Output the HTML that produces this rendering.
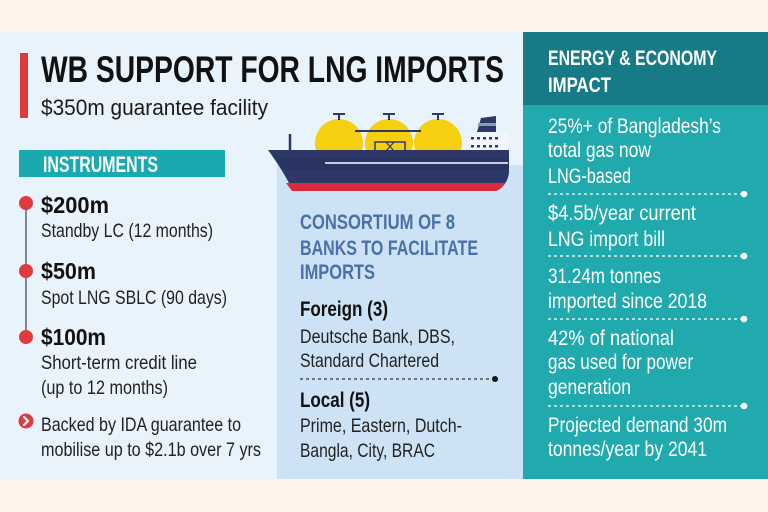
<!DOCTYPE html>
<html><head><meta charset="utf-8"><style>
html,body{margin:0;padding:0;background:#fdf3e9;}
svg{display:block;}
text{font-family:"Liberation Sans Narrow","Liberation Sans",sans-serif;}
.b{font-weight:bold;}
</style></head><body>
<svg width="768" height="512" viewBox="0 0 768 512" xmlns="http://www.w3.org/2000/svg">
<rect x="0" y="0" width="768" height="512" fill="#fdf3e9"/>
<rect x="0" y="32" width="523" height="447" fill="#e9f3fb"/>
<rect x="277" y="165" width="246" height="314" fill="#cde3f5"/>
<rect x="523" y="32" width="245" height="447" fill="#20aaae"/>
<rect x="523" y="32" width="245" height="73" fill="#177a87"/>

<!-- title -->
<rect x="20" y="53" width="8" height="65" fill="#e0393e"/>
<text x="41" y="82" class="b" font-size="37" fill="#111" textLength="463" lengthAdjust="spacingAndGlyphs">WB SUPPORT FOR LNG IMPORTS</text>
<text x="41" y="115" font-size="22" fill="#1a1a1a" textLength="227" lengthAdjust="spacingAndGlyphs">$350m guarantee facility</text>

<!-- instruments -->
<rect x="19" y="150" width="206" height="27" fill="#19aab0"/>
<text x="43" y="172" class="b" font-size="22" fill="#fff" textLength="115" lengthAdjust="spacingAndGlyphs">INSTRUMENTS</text>
<line x1="26" y1="203" x2="26" y2="337" stroke="#666" stroke-width="1.5"/>
<circle cx="26" cy="203" r="7" fill="#e0393e"/>
<circle cx="26" cy="271" r="7" fill="#e0393e"/>
<circle cx="26" cy="337" r="7" fill="#e0393e"/>
<text x="41" y="213" class="b" font-size="23" fill="#111" textLength="68" lengthAdjust="spacingAndGlyphs">$200m</text>
<text x="41" y="237" font-size="19.5" fill="#222" textLength="172" lengthAdjust="spacingAndGlyphs">Standby LC (12 months)</text>
<text x="41" y="279" class="b" font-size="23" fill="#111" textLength="55" lengthAdjust="spacingAndGlyphs">$50m</text>
<text x="41" y="304" font-size="19.5" fill="#222" textLength="186" lengthAdjust="spacingAndGlyphs">Spot LNG SBLC (90 days)</text>
<text x="41" y="345" class="b" font-size="23" fill="#111" textLength="65" lengthAdjust="spacingAndGlyphs">$100m</text>
<text x="41" y="369" font-size="19.5" fill="#222" textLength="156" lengthAdjust="spacingAndGlyphs">Short-term credit line</text>
<text x="41" y="394" font-size="19.5" fill="#222" textLength="127" lengthAdjust="spacingAndGlyphs">(up to 12 months)</text>
<circle cx="26" cy="421" r="7.5" fill="#e0393e"/>
<path d="M24 417 L28 421 L24 425" fill="none" stroke="#fff" stroke-width="2.2" stroke-linecap="round" stroke-linejoin="round"/>
<text x="41" y="431" font-size="19.5" fill="#222" textLength="200" lengthAdjust="spacingAndGlyphs">Backed by IDA guarantee to</text>
<text x="41" y="456" font-size="19.5" fill="#222" textLength="220" lengthAdjust="spacingAndGlyphs">mobilise up to $2.1b over 7 yrs</text>

<!-- ship -->
<g>
<circle cx="339" cy="143" r="24" fill="#f6cf0e"/>
<circle cx="389" cy="143" r="24" fill="#f6cf0e"/>
<circle cx="438" cy="143" r="24" fill="#f6cf0e"/>
<line x1="355" y1="131" x2="421" y2="131" stroke="#2d3868" stroke-width="2"/>
<g stroke="#2d3868" stroke-width="2">
<line x1="339" y1="114" x2="339" y2="120"/><line x1="333" y1="114" x2="345" y2="114"/>
<line x1="389" y1="114" x2="389" y2="120"/><line x1="383" y1="114" x2="395" y2="114"/>
<line x1="438" y1="114" x2="438" y2="120"/><line x1="432" y1="114" x2="444" y2="114"/>
</g>
<rect x="375" y="142" width="30" height="9" fill="#f6cf0e" stroke="#2d3868" stroke-width="1.5"/>
<path d="M386 142 L394 151 M394 142 L386 151" stroke="#2d3868" stroke-width="1.2"/>
<line x1="290" y1="134" x2="290" y2="151" stroke="#2d3868" stroke-width="2.5"/>
<rect x="466" y="133" width="42" height="18" fill="#f2f6fb"/>
<g fill="#2d3868">
<rect x="471" y="137" width="3" height="2.5"/><rect x="477" y="137" width="3" height="2.5"/><rect x="483" y="137" width="3" height="2.5"/><rect x="489" y="137" width="3" height="2.5"/><rect x="495" y="137" width="3" height="2.5"/>
<rect x="471" y="145" width="3" height="2.5"/><rect x="477" y="145" width="3" height="2.5"/><rect x="483" y="145" width="3" height="2.5"/><rect x="489" y="145" width="3" height="2.5"/><rect x="495" y="145" width="3" height="2.5"/>
</g>
<path d="M477 132 L496 132 L496 116 L481 118 Z" fill="#2d3868"/>
<rect x="478" y="123" width="18" height="3" fill="#8d9ac0"/>
<path d="M268 150 L509 150 L509 173 Q507 186 496 191 L293 191 Q284 172 268 150 Z" fill="#2d3868"/>
<path d="M286 183 L505 183 Q502 189 496 191 L292 191 Z" fill="#db2a3c"/>
<path d="M276 158 L509 158 L509 170 L284 170 Z" fill="#26305c" opacity="0.5"/>
<line x1="325" y1="163" x2="508" y2="163" stroke="#ffffff" stroke-width="1.6"/>
</g>

<!-- consortium -->
<text x="300" y="229" class="b" font-size="21" fill="#4a6fab" textLength="155" lengthAdjust="spacingAndGlyphs">CONSORTIUM OF 8</text>
<text x="300" y="255" class="b" font-size="21" fill="#4a6fab" textLength="178" lengthAdjust="spacingAndGlyphs">BANKS TO FACILITATE</text>
<text x="300" y="279" class="b" font-size="21" fill="#4a6fab" textLength="75" lengthAdjust="spacingAndGlyphs">IMPORTS</text>
<text x="300" y="316" class="b" font-size="21" fill="#111" textLength="88" lengthAdjust="spacingAndGlyphs">Foreign (3)</text>
<text x="300" y="343" font-size="19.5" fill="#222" textLength="155" lengthAdjust="spacingAndGlyphs">Deutsche Bank, DBS,</text>
<text x="300" y="367" font-size="19.5" fill="#222" textLength="139" lengthAdjust="spacingAndGlyphs">Standard Chartered</text>
<line x1="300" y1="379" x2="492" y2="379" stroke="#333" stroke-width="1.2" stroke-dasharray="3,3"/>
<circle cx="495" cy="379" r="3" fill="#111"/>
<text x="300" y="407" class="b" font-size="21" fill="#111" textLength="70" lengthAdjust="spacingAndGlyphs">Local (5)</text>
<text x="300" y="432" font-size="19.5" fill="#222" textLength="162" lengthAdjust="spacingAndGlyphs">Prime, Eastern, Dutch-</text>
<text x="300" y="457" font-size="19.5" fill="#222" textLength="135" lengthAdjust="spacingAndGlyphs">Bangla, City, BRAC</text>

<!-- right panel -->
<text x="548" y="65" class="b" font-size="21" fill="#fff" textLength="169" lengthAdjust="spacingAndGlyphs">ENERGY &amp; ECONOMY</text>
<text x="548" y="92" class="b" font-size="21" fill="#fff" textLength="63" lengthAdjust="spacingAndGlyphs">IMPACT</text>
<g fill="#fff" font-size="21">
<text x="548" y="133" textLength="173" lengthAdjust="spacingAndGlyphs">25%+ of Bangladesh’s</text>
<text x="548" y="157" textLength="103" lengthAdjust="spacingAndGlyphs">total gas now</text>
<text x="548" y="183" textLength="83" lengthAdjust="spacingAndGlyphs">LNG-based</text>
<text x="548" y="220" textLength="148" lengthAdjust="spacingAndGlyphs">$4.5b/year current</text>
<text x="548" y="246" textLength="117" lengthAdjust="spacingAndGlyphs">LNG import bill</text>
<text x="548" y="283" textLength="113" lengthAdjust="spacingAndGlyphs">31.24m tonnes</text>
<text x="548" y="308" textLength="159" lengthAdjust="spacingAndGlyphs">imported since 2018</text>
<text x="548" y="345" textLength="126" lengthAdjust="spacingAndGlyphs">42% of national</text>
<text x="548" y="369" textLength="145" lengthAdjust="spacingAndGlyphs">gas used for power</text>
<text x="548" y="394" textLength="83" lengthAdjust="spacingAndGlyphs">generation</text>
<text x="548" y="432" textLength="179" lengthAdjust="spacingAndGlyphs">Projected demand 30m</text>
<text x="548" y="456" textLength="159" lengthAdjust="spacingAndGlyphs">tonnes/year by 2041</text>
</g>
<g stroke="#fff" stroke-width="1.2" stroke-dasharray="3,3">
<line x1="548" y1="194" x2="741" y2="194"/>
<line x1="548" y1="256" x2="741" y2="256"/>
<line x1="548" y1="319" x2="741" y2="319"/>
<line x1="548" y1="406" x2="741" y2="406"/>
</g>
<g fill="#fff">
<circle cx="744" cy="194" r="3.3"/>
<circle cx="744" cy="256" r="3.3"/>
<circle cx="744" cy="319" r="3.3"/>
<circle cx="744" cy="406" r="3.3"/>
</g>
</svg>
</body></html>
